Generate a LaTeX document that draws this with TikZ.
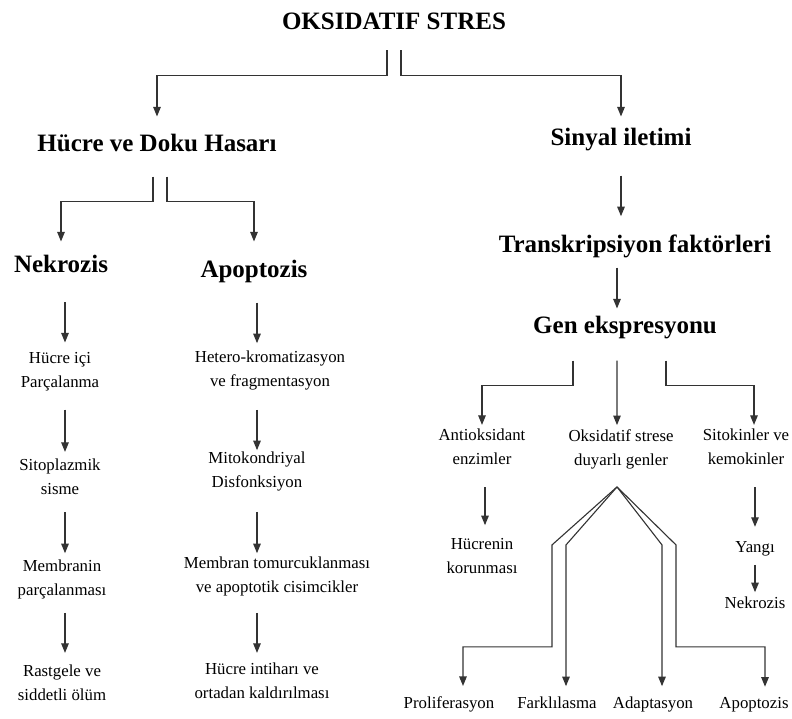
\documentclass[tikz,border=0pt]{standalone}
\usepackage{fontspec}
\setmainfont{Liberation Serif}
\usetikzlibrary{arrows.meta}

\begin{document}
\begin{tikzpicture}[x=1bp,y=-1bp,
    head/.style={font=\fontsize{25bp}{30bp}\selectfont\bfseries,inner sep=0pt,anchor=base},
    txt/.style={font=\fontsize{16.8bp}{24bp}\selectfont,align=center,inner sep=0pt},
    arr/.style={draw=black!80,line width=1.1bp,-{Triangle[width=7.5bp,length=9.5bp]}}]
    \path[use as bounding box,fill=white] (0,0) rectangle (792,719);
    \coordinate (colL) at (65,0);
    \coordinate (colR) at (257,0);
    \node[head] (ox) at (394,30) {OKSIDATIF STRES};
    \node[head] (hasar) at (157,152) {Hücre ve Doku Hasarı};
    \node[head] (sinyal) at (621,146) {Sinyal iletimi};
    \node[head] (nekroz) at (61,272) {Nekrozis};
    \node[head] (apopt) at (254,277) {Apoptozis};
    \node[head] (trans) at (635,252) {Transkripsiyon faktörleri};
    \node[head] (gen) at (625,333) {Gen ekspresyonu};
    \node[txt] (hic) at (60,372) {Hücre içi\\Parçalanma};
    \node[txt] (sito) at (60,477) {Sitoplazmik\\sisme};
    \node[txt] (memb) at (62,579) {Membranin\\parçalanması};
    \node[txt] (rast) at (62,683) {Rastgele ve\\siddetli ölüm};
    \node[txt] (het) at (270,370) {Hetero-kromatizasyon\\ve fragmentasyon};
    \node[txt] (mito) at (257,471) {Mitokondriyal\\Disfonksiyon};
    \node[txt] (tomur) at (277,576) {Membran tomurcuklanması\\ve apoptotik cisimcikler};
    \node[txt] (intihar) at (262,681) {Hücre intiharı ve\\ortadan kaldırılması};
    \node[txt] (antiox) at (482,447) {Antioksidant\\enzimler};
    \node[txt] (duyarli) at (621,449) {Oksidatif strese\\duyarlı genler};
    \node[txt] (sitok) at (746,447) {Sitokinler ve\\kemokinler};
    \node[txt] (korun) at (482,556) {Hücrenin\\korunması};
    \node[txt,anchor=base] (yangi) at (755,552) {Yangı};
    \node[txt,anchor=base] (nekroz2) at (755,608) {Nekrozis};
    \node[txt,anchor=base] (prolif) at (449,708) {Proliferasyon};
    \node[txt,anchor=base] (fark) at (557,708) {Farklılasma};
    \node[txt,anchor=base] (adapt) at (653,708) {Adaptasyon};
    \node[txt,anchor=base] (apopt2) at (754,708) {Apoptozis};
    \coordinate (apex) at ([xshift=-4bp,yshift=-18bp]duyarli.south);

    \draw[arr] ([xshift=-7bp,yshift=-20bp]ox.south) -- ++(0,25) -| ([yshift=18bp]hasar.north);
    \draw[arr] ([xshift=7bp,yshift=-20bp]ox.south) -- ++(0,25) -| ([yshift=12bp]sinyal.north);
    \draw[arr] ([xshift=-4bp,yshift=-24bp]hasar.south) -- ++(0,25) -| ([yshift=13bp]nekroz.north);
    \draw[arr] ([xshift=10bp,yshift=-24bp]hasar.south) -- ++(0,25) -| ([yshift=18bp]apopt.north);

    \draw[arr,shorten <=30bp,shorten >=10bp] (nekroz.south -| colL) -- (hic.north -| colL);
    \draw[arr,shorten <=18bp,shorten >=7bp] (hic.south -| colL) -- (sito.north -| colL);
    \draw[arr,shorten <=17bp,shorten >=6bp] (sito.south -| colL) -- (memb.north -| colL);
    \draw[arr,shorten <=14bp,shorten >=12bp] (memb.south -| colL) -- (rast.north -| colL);
    \draw[arr,shorten <=20bp,shorten >=7bp] (apopt.south -| colR) -- (het.north -| colR);
    \draw[arr,shorten <=20bp,shorten >=1bp] (het.south -| colR) -- (mito.north -| colR);
    \draw[arr,shorten <=21bp,shorten >=3bp] (mito.south -| colR) -- (tomur.north -| colR);
    \draw[arr,shorten <=17bp,shorten >=10bp] (tomur.south -| colR) -- (intihar.north -| colR);

    \draw[arr,shorten <=24bp,shorten >=18bp] (sinyal.south) -- (sinyal.south |- trans.north);
    \draw[arr,shorten <=10bp,shorten >=7bp] ([xshift=-8bp]gen.north |- trans.south) -- ([xshift=-8bp]gen.north);
    \draw[arr] ([xshift=-52bp,yshift=-22bp]gen.south) -- ++(0,25) -| ([yshift=4bp]antiox.north);
    \draw[arr] ([xshift=-8bp,yshift=-22bp]gen.south) -- ([xshift=-4bp,yshift=4bp]duyarli.north);
    \draw[arr] ([xshift=41bp,yshift=-22bp]gen.south) -- ++(0,25) -| ([xshift=8bp,yshift=4bp]sitok.north);

    \draw[arr,shorten <=22bp,shorten >=13bp] ([xshift=3bp]antiox.south) -- ([xshift=3bp]antiox.south |- korun.north);
    \draw[arr,shorten <=22bp,shorten >=14bp] ([xshift=9bp]sitok.south) -- ([xshift=9bp]sitok.south |- yangi.north);
    \draw[arr,shorten <=9bp,shorten >=4bp] (yangi.south) -- (nekroz2.north);

    \draw[arr] (apex) -- ++(-65,58) -- ++(0,102) -| ([xshift=14bp,yshift=10bp]prolif.north);
    \draw[arr] (apex) -- ++(-51,58) -- ([xshift=9bp,yshift=10bp]fark.north);
    \draw[arr] (apex) -- ++(45,58) -- ([xshift=9bp,yshift=10bp]adapt.north);
    \draw[arr] (apex) -- ++(59,58) -- ++(0,102) -| ([xshift=11bp,yshift=10bp]apopt2.north);
\end{tikzpicture}
\end{document}
